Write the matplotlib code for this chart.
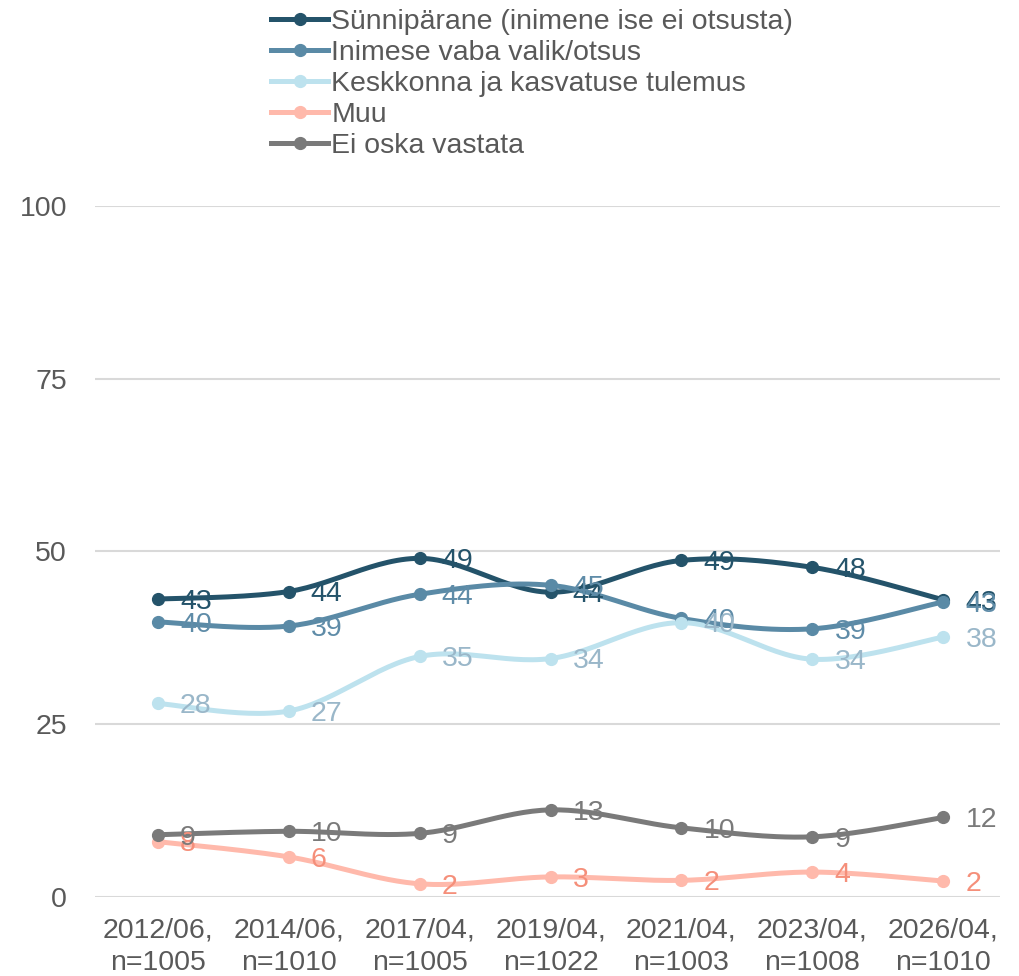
import matplotlib
matplotlib.use("Agg")
import matplotlib.pyplot as plt
import numpy as np

plt.rcParams['font.family'] = ['Liberation Sans', 'DejaVu Sans']

categories = ["2012/06,\nn=1005", "2014/06,\nn=1010", "2017/04,\nn=1005", "2019/04,\nn=1022",
              "2021/04,\nn=1003", "2023/04,\nn=1008", "2026/04,\nn=1010"]
synniparane = [43.1, 44.2, 49.0, 44.1, 48.7, 47.7, 43.0]
vaba_valik = [39.8, 39.2, 43.8, 45.1, 40.3, 38.8, 42.7]
keskkond = [28.0, 26.9, 34.8, 34.5, 39.7, 34.4, 37.6]
muu = [8.0, 5.8, 1.9, 2.9, 2.4, 3.6, 2.3]
ei_oska = [9.0, 9.5, 9.2, 12.6, 10.0, 8.7, 11.5]

series_names = ["Sünnipärane (inimene ise ei otsusta)", "Inimese vaba valik/otsus",
                "Keskkonna ja kasvatuse tulemus", "Muu", "Ei oska vastata"]
series = [synniparane, vaba_valik, keskkond, muu, ei_oska]
line_colors = ["#24536a", "#5a8aa6", "#bde2ee", "#ffb9ab", "#7a7a7a"]
label_colors = ["#24536a", "#5f8ca8", "#9ab7c9", "#f58f7a", "#7a7a7a"]


def smooth(x, y, n=30):
    # catmull-rom style smoothing between the points
    x = np.asarray(x, float)
    y = np.asarray(y, float)
    px = np.concatenate([[x[0]], x, [x[-1]]])
    py = np.concatenate([[y[0]], y, [y[-1]]])
    xs, ys = [], []
    for i in range(1, len(px) - 2):
        t = np.linspace(0, 1, n)
        for p, out in ((px, xs), (py, ys)):
            p0, p1, p2, p3 = p[i - 1], p[i], p[i + 1], p[i + 2]
            m1 = (p2 - p0) / 2.0
            m2 = (p3 - p1) / 2.0
            h00 = 2 * t**3 - 3 * t**2 + 1
            h10 = t**3 - 2 * t**2 + t
            h01 = -2 * t**3 + 3 * t**2
            h11 = t**3 - t**2
            out.extend(h00 * p1 + h10 * m1 + h01 * p2 + h11 * m2)
    return np.array(xs), np.array(ys)


fig = plt.figure(figsize=(10.2, 9.76), dpi=100)
ax = fig.add_axes([0.093, 0.081, 0.887, 0.708])
x = np.arange(len(categories))

handles = []
for name, vals, lc, tc in zip(series_names, series, line_colors, label_colors):
    sx, sy = smooth(x, vals)
    ax.plot(sx, sy, color=lc, lw=3.6, solid_capstyle='round', clip_on=False, zorder=3)
    ax.plot(x, vals, 'o', color=lc, ms=8.5, clip_on=False, zorder=4)
    h, = ax.plot([], [], '-o', color=lc, lw=3.6, ms=8.5, label=name)
    handles.append(h)
    for i, v in enumerate(vals):
        ax.annotate(str(int(round(v))), (x[i], v), xytext=(16, -2), textcoords='offset points',
                    ha='left', va='center', fontsize=20.5, color=tc, zorder=5)

ax.set_ylim(0, 100)
ax.set_xlim(-0.48, 6.43)
ax.set_yticks([0, 25, 50, 75, 100])
ax.set_xticks(x)
ax.set_xticklabels(categories, linespacing=1.3)
ax.grid(axis='y', color='#d9d9d9', lw=1.5)
ax.set_axisbelow(True)
for s in ax.spines.values():
    s.set_visible(False)
ax.tick_params(axis='both', length=0, labelsize=20.5, colors='#595959')
ax.tick_params(axis='y', pad=20)
ax.tick_params(axis='x', pad=15)

fig.legend(handles=handles, loc='upper left', bbox_to_anchor=(0.249, 1.008), frameon=False,
           fontsize=20.5, labelspacing=0.17, handlelength=2.0, handletextpad=0.12,
           labelcolor='#595959', borderaxespad=0.2)

fig.savefig("out.png", dpi=100, facecolor='white')
